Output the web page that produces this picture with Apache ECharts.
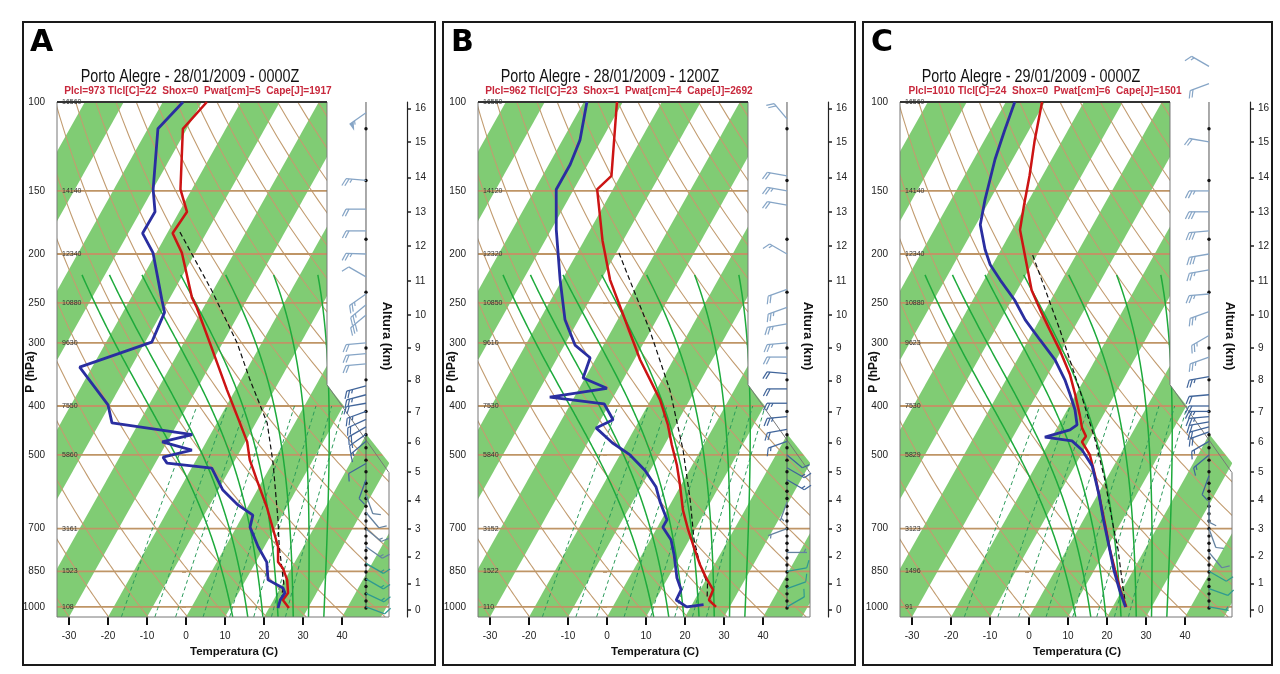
<!DOCTYPE html>
<html>
<head>
<meta charset="utf-8">
<title>Porto Alegre soundings</title>
<script src="https://cdn.jsdelivr.net/npm/echarts@6/dist/echarts.min.js"></script>
<style>
  html, body { margin: 0; padding: 0; background: #fff; }
  #chart { width: 1280px; height: 674px; }
</style>
</head>
<body>
<div id="chart"></div>
<script>
// skew-T log-p diagrams, Porto Alegre 28-29/01/2009

// ---- axes ----
const pressureTicks = [100, 150, 200, 250, 300, 400, 500, 700, 850, 1000];
const isobarLevels = [150, 200, 250, 300, 400, 500, 700, 850, 1000];
const tempTicks = [-30, -20, -10, 0, 10, 20, 30, 40];
const altitudeKm = [0, 1, 2, 3, 4, 5, 6, 7, 8, 9, 10, 11, 12, 13, 14, 15, 16];
const altitudePressure = [1013, 899, 795, 701, 616, 540, 472, 411, 356, 307, 264, 226, 193, 165, 141, 120, 103];

// ---- background lines of the diagram ----
const bandStarts = [-140, -120, -100, -80, -60, -40, -20, 0, 20, 40];   // green 10 C isotherm bands
const thetaLines = [230, 240, 250, 260, 270, 280, 290, 300, 310, 320, 330, 340, 350, 360, 370,
                    380, 390, 400, 410, 420, 430, 440, 450, 460, 470, 480, 490, 500]; // dry adiabats (K)
const thetaWLines = [10, 14, 18, 22, 26, 30, 34];         // moist adiabats (C)
const mixingLines = [1, 2, 3, 5, 8, 12, 16, 20];          // mixing ratio (g/kg)

// ---- panel texts ----
const panelLetters = ['A', 'B', 'C'];
const panelTitles = ['Porto Alegre - 28/01/2009 - 0000Z', 'Porto Alegre - 28/01/2009 - 1200Z', 'Porto Alegre - 29/01/2009 - 0000Z'];
const panelIndices = ['Plcl=973 Tlcl[C]=22  Shox=0  Pwat[cm]=5  Cape[J]=1917',
                      'Plcl=962 Tlcl[C]=23  Shox=1  Pwat[cm]=4  Cape[J]=2692',
                      'Plcl=1010 Tlcl[C]=24  Shox=0  Pwat[cm]=6  Cape[J]=1501'];
const heightLabelsA = ['16560', '14140', '12340', '10880', '9630', '7550', '5860', '3161', '1523', '108'];
const heightLabelsB = ['16550', '14120', '12320', '10850', '9610', '7530', '5840', '3152', '1522', '110'];
const heightLabelsC = ['16560', '14140', '12340', '10880', '9623', '7530', '5829', '3123', '1496', '91'];

// ---- soundings: pressure (hPa) / temperature (C) ----
const tempPA = [100, 113, 149, 165, 182, 199, 244, 255, 300, 372, 432, 471, 512, 531, 561, 634, 760, 815, 838, 884, 938, 969, 1005];
const tempTA = [-68.7, -71.0, -62.9, -58.0, -58.6, -53.4, -44.4, -41.8, -33.3, -22.1, -14.1, -9.5, -6.2, -4.3, -1.5, 4.9, 13.5, 15.7, 17.8, 20.6, 22.7, 22.4, 25.1];
const dewPA = [100, 113, 149, 165, 182, 199, 247, 261, 299, 335, 398, 432, 456, 471, 489, 505, 519, 531, 587, 628, 658, 695, 760, 815, 884, 917, 938, 969, 1005];
const dewTA = [-74.8, -77.4, -69.9, -66.2, -66.3, -60.8, -51.7, -49.3, -48.3, -63.2, -50.5, -46.9, -24.6, -31.3, -22.5, -28.9, -27.0, -14.8, -8.8, -2.8, 2.5, 3.5, 8.4, 12.8, 15.7, 20.7, 21.9, 21.7, 22.3];
const parcelPA = [181, 236, 300, 355, 432, 519, 672, 760, 830, 900, 973];
const parcelTA = [-56.9, -40.4, -26.3, -17.7, -7.1, 0.2, 9.6, 13.8, 17.2, 20.3, 22.0];

const tempPB = [100, 140, 149, 188, 225, 270, 324, 389, 436, 478, 524, 573, 643, 704, 764, 826, 876, 925, 969, 1000];
const tempTB = [-71.5, -62.3, -64.0, -55.3, -47.7, -38.1, -28.5, -17.6, -12.0, -8.1, -3.9, -0.3, 4.1, 8.3, 12.4, 16.4, 19.8, 23.3, 23.7, 26.5];
const dewPB = [100, 119, 133, 149, 179, 225, 270, 303, 321, 352, 369, 384, 396, 426, 442, 473, 500, 536, 579, 620, 672, 695, 736, 789, 876, 925, 969, 1000, 990];
const dewTB = [-79.2, -75.5, -74.5, -74.5, -68.7, -60.5, -53.5, -47.3, -41.6, -40.5, -32.9, -46.3, -31.4, -26.8, -30.0, -23.7, -17.4, -11.4, -6.1, -2.9, 1.4, 1.4, 5.3, 8.3, 12.3, 15.1, 15.3, 19.0, 23.0];
const parcelPB = [199, 283, 372, 489, 614, 736, 826, 900, 962];
const parcelTB = [-49.3, -30.3, -16.5, -4.5, 4.5, 11.2, 16.4, 21.0, 23.0];

const tempPC = [100, 119, 140, 160, 179, 201, 236, 258, 283, 310, 347, 380, 417, 442, 459, 471, 500, 548, 614, 688, 771, 845, 925, 1000];
const tempTC = [-70.7, -67.1, -63.3, -60.5, -58.0, -53.1, -46.3, -41.3, -35.9, -30.5, -24.3, -20.1, -16.0, -13.6, -11.4, -11.6, -7.7, -3.5, 1.4, 6.3, 11.1, 15.3, 19.5, 23.5];
const dewPC = [100, 114, 130, 156, 175, 196, 210, 225, 247, 270, 296, 324, 355, 380, 407, 436, 446, 461, 469, 489, 526, 600, 672, 754, 845, 925, 1000];
const dewTC = [-77.7, -76.2, -74.5, -71.3, -68.9, -64.1, -60.6, -55.9, -49.2, -43.7, -37.0, -30.3, -24.9, -21.4, -18.0, -15.3, -16.4, -21.8, -14.3, -10.4, -5.5, 0.4, 5.1, 10.1, 15.0, 19.3, 23.3];
const parcelPC = [201, 283, 372, 467, 561, 672, 771, 884, 1000];
const parcelTC = [-51.1, -33.3, -19.6, -8.5, -0.2, 7.3, 13.2, 18.5, 23.4];

// ---- winds: pressure (hPa), direction (deg), speed (kt) ----
const windPA = [105, 143, 163, 180, 200, 222, 240, 252, 264, 300, 315, 330, 365, 380, 395, 410, 425, 440, 455, 470, 520, 560, 600, 650, 700, 760, 820, 880, 940, 1000];
const windDirA = [235, 275, 270, 270, 272, 300, 235, 230, 230, 265, 265, 265, 255, 255, 260, 250, 245, 240, 235, 230, 240, 200, 160, 140, 130, 125, 120, 120, 115, 110];
const windSpdA = [55, 25, 20, 20, 25, 10, 25, 25, 30, 20, 20, 20, 25, 25, 20, 25, 20, 20, 15, 15, 10, 10, 10, 10, 15, 15, 15, 15, 15, 10];
const windPB = [108, 140, 150, 160, 200, 235, 255, 275, 300, 320, 345, 370, 395, 420, 445, 470, 500, 530, 560, 620, 700, 780, 850, 920, 1000];
const windDirB = [320, 280, 280, 280, 300, 250, 250, 260, 265, 270, 275, 270, 270, 265, 260, 250, 130, 120, 120, 200, 250, 90, 80, 70, 60];
const windSpdB = [20, 20, 25, 20, 15, 20, 25, 25, 25, 20, 20, 20, 25, 25, 20, 15, 10, 15, 15, 5, 5, 5, 10, 10, 10];
const windPC = [85, 92, 120, 150, 165, 180, 200, 215, 240, 260, 290, 320, 350, 380, 400, 410, 420, 430, 440, 450, 470, 500, 550, 620, 700, 780, 850, 920, 1000];
const windDirC = [300, 250, 280, 270, 270, 265, 260, 260, 265, 250, 240, 250, 260, 265, 270, 270, 265, 260, 255, 250, 240, 230, 200, 180, 160, 140, 120, 110, 100];
const windSpdC = [15, 20, 20, 25, 30, 30, 30, 25, 25, 25, 25, 25, 25, 20, 20, 25, 25, 20, 20, 20, 15, 15, 10, 10, 10, 10, 10, 10, 5];
const windDots = [113, 143, 187, 238, 307, 355, 410, 456, 484, 512, 540, 569, 590, 610, 632, 654, 676, 700, 724, 748, 773, 800, 826, 853, 882, 911, 942, 973, 1005];

// ---- geometry of the diagram ----
const PANEL_X = [0, 421, 843];
const PB = 1047;            // pressure at the bottom edge
const SKEW = 72.6;          // isotherm skew, C per decade of pressure
const X_MIN = -33.08, X_MAX = 52.05, X_CUT = 36.15, X_COL = 46.15;
const LOG_TOP = 2, LOG_BOT = Math.log10(PB);
const FONT_N = '"Liberation Sans Narrow", "Arial Narrow", "Liberation Sans", sans-serif';
const FONT = '"Liberation Sans", Arial, sans-serif';
const BAND_GREEN = '#80cc74';
const BROWN = '#c29c70';

const toXY = (p, t) => [t + SKEW * Math.log10(PB / p), Math.log10(p)];
const sounding = (ps, ts) => ps.map((p, k) => toXY(p, ts[k]));

// dry adiabats
const dryCurves = thetaLines.map(th => {
    const pts = [];
    for (let p = PB; p > 100; p -= 10) pts.push(toXY(p, th * Math.pow(p / 1000, 0.286) - 273.15));
    pts.push(toXY(100, th * Math.pow(0.1, 0.286) - 273.15));
    return pts;
});

// saturated adiabats
function moistLapse(p, T) {
    const es = 6.112 * Math.exp(17.67 * (T - 273.15) / (T - 29.65));
    const rs = 0.622 * es / (p - es);
    return (287 * T + 2.5e6 * rs) / (p * (1004 + 2.5e6 * 2.5e6 * rs * 0.622 / (287 * T * T)));
}
function moistStep(p, T, dp) {
    const k1 = moistLapse(p, T);
    const k2 = moistLapse(p + dp / 2, T + k1 * dp / 2);
    return T + k2 * dp;
}
const moistCurves = thetaWLines.map(tw => {
    let Tb = tw + 273.15;
    for (let q = 1000; q < PB; q += 1) Tb = moistStep(q, Tb, 1);
    const pts = [toXY(PB, Tb - 273.15)];
    let T = tw + 273.15, p = 1000;
    while (p > 222) { pts.push(toXY(p, T - 273.15)); T = moistStep(p, T, -4); p -= 4; }
    pts.push(toXY(p, T - 273.15));
    return pts;
});

// mixing ratio lines
function dewFromMixing(w, p) {
    const l = Math.log(w * p / (622 + w) / 6.112);
    return 243.5 * l / (17.67 - l);
}
const mixCurves = mixingLines.map(w => {
    const pts = [];
    for (let p = PB; p > 400; p -= 20) pts.push(toXY(p, dewFromMixing(w, p)));
    pts.push(toXY(400, dewFromMixing(w, 400)));
    return pts;
});

const panelData = [
    { heights: heightLabelsA, temp: sounding(tempPA, tempTA), dew: sounding(dewPA, dewTA), parcel: sounding(parcelPA, parcelTA),
      wind: windPA.map((p, k) => [Math.log10(p), windDirA[k], windSpdA[k]]) },
    { heights: heightLabelsB, temp: sounding(tempPB, tempTB), dew: sounding(dewPB, dewTB), parcel: sounding(parcelPB, parcelTB),
      wind: windPB.map((p, k) => [Math.log10(p), windDirB[k], windSpdB[k]]) },
    { heights: heightLabelsC, temp: sounding(tempPC, tempTC), dew: sounding(dewPC, dewTC), parcel: sounding(parcelPC, parcelTC),
      wind: windPC.map((p, k) => [Math.log10(p), windDirC[k], windSpdC[k]]) }
];

function curveSeries(ax, curves, z, style) {
    return Object.assign({}, ax, {
        type: 'custom', z: z, clip: true, silent: true,
        data: curves.map((c, k) => k),
        renderItem: (params, api) => ({
            type: 'polyline',
            shape: { points: curves[params.dataIndex].map(d => api.coord(d)) },
            style: Object.assign({ fill: null }, style)
        })
    });
}

function barbColor(p) {
    return p < 340 ? '#86a5c6' : p < 560 ? '#41659a' : p < 780 ? '#6482a0' : '#2f9a90';
}

function renderBarb(params, api) {
    const o = api.coord([X_COL, api.value(0)]);
    const a = api.value(1) * Math.PI / 180;
    let spd = api.value(2);
    const s = [Math.sin(a), -Math.cos(a)];
    const n = [s[1], -s[0]];
    const col = barbColor(Math.pow(10, api.value(0)));
    const tip = [o[0] + s[0] * 20, o[1] + s[1] * 20];
    const at = d => [tip[0] - s[0] * d, tip[1] - s[1] * d];
    const kids = [{ type: 'line', shape: { x1: o[0], y1: o[1], x2: tip[0], y2: tip[1] }, style: { stroke: col, lineWidth: 1.3 } }];
    let d = 0;
    while (spd >= 50) {
        const b = at(d), e = at(d + 5);
        kids.push({ type: 'polygon', shape: { points: [b, e, [b[0] + n[0] * 8, b[1] + n[1] * 8]] }, style: { fill: col } });
        spd -= 50; d += 6;
    }
    while (spd >= 10) {
        const b = at(d);
        kids.push({ type: 'line', shape: { x1: b[0], y1: b[1], x2: b[0] + (n[0] * 0.9 + s[0] * 0.45) * 8, y2: b[1] + (n[1] * 0.9 + s[1] * 0.45) * 8 }, style: { stroke: col, lineWidth: 1.2 } });
        spd -= 10; d += 3;
    }
    if (spd >= 5) {
        const b = at(d === 0 ? 3 : d);
        kids.push({ type: 'line', shape: { x1: b[0], y1: b[1], x2: b[0] + (n[0] * 0.9 + s[0] * 0.45) * 4, y2: b[1] + (n[1] * 0.9 + s[1] * 0.45) * 4 }, style: { stroke: col, lineWidth: 1.2 } });
    }
    return { type: 'group', children: kids };
}

function panelSeries(i) {
    const ax = { xAxisIndex: i, yAxisIndex: 2 * i };
    const pd = panelData[i];
    const list = [];
    // green isotherm bands
    list.push(Object.assign({}, ax, {
        type: 'custom', z: 1, clip: true, silent: true, data: bandStarts,
        renderItem: (params, api) => {
            const t = bandStarts[params.dataIndex];
            return { type: 'polygon',
                     shape: { points: [toXY(PB, t), toXY(PB, t + 10), toXY(100, t + 10), toXY(100, t)].map(d => api.coord(d)) },
                     style: { fill: BAND_GREEN } };
        }
    }));
    list.push(curveSeries(ax, dryCurves, 2, { stroke: BROWN, lineWidth: 1.1 }));
    list.push(curveSeries(ax, isobarLevels.map(p => [[X_MIN, Math.log10(p)], [X_MAX, Math.log10(p)]]), 2, { stroke: '#bf9566', lineWidth: 1.8 }));
    list.push(curveSeries(ax, moistCurves, 3, { stroke: '#1eaa3c', lineWidth: 1.5 }));
    list.push(curveSeries(ax, mixCurves, 3, { stroke: '#2a9a5a', lineWidth: 1, lineDash: [4, 3] }));
    // white area at the upper right, outside the diagram
    const cover = [[X_CUT, 1.97], [X_MAX + 2, 1.97], [X_MAX + 2, Math.log10(542)], [X_CUT, Math.log10(363)]];
    list.push(Object.assign({}, ax, {
        type: 'custom', z: 4, clip: true, silent: true, data: [0],
        renderItem: (params, api) => ({ type: 'polygon', shape: { points: cover.map(d => api.coord(d)) }, style: { fill: '#ffffff' } })
    }));
    // outline of the diagram
    const outline = [[X_MIN, LOG_TOP], [X_CUT, LOG_TOP], [X_CUT, Math.log10(363)], [X_MAX, Math.log10(542)],
                     [X_MAX, LOG_BOT], [X_MIN, LOG_BOT], [X_MIN, LOG_TOP]];
    const lo = curveSeries(ax, [outline], 5, { stroke: '#777', lineWidth: 1 });
    lo.clip = false;
    list.push(lo);
    const top = curveSeries(ax, [[[X_MIN, LOG_TOP], [X_CUT, LOG_TOP]]], 5, { stroke: '#333', lineWidth: 2 });
    top.clip = false;
    list.push(top);
    // wind column
    const col = curveSeries(ax, [[[X_COL, LOG_TOP], [X_COL, Math.log10(1005)]]], 5, { stroke: '#555', lineWidth: 1 });
    col.clip = false;
    list.push(col);
    list.push(Object.assign({}, ax, {
        type: 'custom', z: 6, silent: true, data: windDots.map(p => Math.log10(p)),
        renderItem: (params, api) => {
            const pt = api.coord([X_COL, Math.log10(windDots[params.dataIndex])]);
            return { type: 'circle', shape: { cx: pt[0], cy: pt[1], r: 1.7 }, style: { fill: '#111' } };
        }
    }));
    list.push(Object.assign({}, ax, { type: 'custom', z: 6, silent: true, data: pd.wind, renderItem: renderBarb }));
    // station heights of the standard levels
    list.push(Object.assign({}, ax, {
        type: 'custom', z: 6, silent: true, data: pressureTicks,
        renderItem: (params, api) => {
            const pt = api.coord([X_MIN, Math.log10(pressureTicks[params.dataIndex])]);
            return { type: 'text', x: pt[0] + 5, y: pt[1],
                     style: { text: pd.heights[params.dataIndex], font: '7px ' + FONT_N, fill: '#333',
                              align: 'left', verticalAlign: 'middle', textAlign: 'left', textVerticalAlign: 'middle' } };
        }
    }));
    // profiles
    list.push(Object.assign({}, ax, { type: 'line', z: 8, silent: true, showSymbol: false, data: pd.parcel,
        lineStyle: { color: '#111', width: 1.2, type: [5, 3] } }));
    list.push(Object.assign({}, ax, { type: 'line', z: 9, silent: true, showSymbol: false, data: pd.temp,
        lineStyle: { color: '#cc1414', width: 2.5 } }));
    list.push(Object.assign({}, ax, { type: 'line', z: 10, silent: true, showSymbol: false, data: pd.dew,
        lineStyle: { color: '#2a2ea0', width: 2.8 } }));
    return list;
}

const logTicks = pressureTicks.map(p => Math.log10(p));
const altTicks = altitudePressure.map(p => Math.log10(p));

const centered = { align: 'center', verticalAlign: 'middle', textAlign: 'center', textVerticalAlign: 'middle' };

const option = {
    animation: false,
    grid: PANEL_X.map(s => ({ left: 57 + s, top: 102, width: 332, height: 515 })),
    xAxis: PANEL_X.map((s, i) => ({
        gridIndex: i, type: 'value', min: X_MIN, max: X_MAX,
        axisLine: { show: false }, splitLine: { show: false },
        axisTick: { show: true, customValues: tempTicks, length: 8, lineStyle: { color: '#111', width: 2 } },
        axisLabel: { customValues: tempTicks, fontSize: 10, fontFamily: FONT_N, color: '#222', margin: 14 }
    })),
    yAxis: [].concat(...PANEL_X.map((s, i) => [
        {
            gridIndex: i, type: 'value', min: LOG_TOP, max: LOG_BOT, inverse: true,
            axisLine: { show: false }, splitLine: { show: false },
            axisTick: { show: true, customValues: logTicks, length: 4, lineStyle: { color: '#a88660', width: 1.5 } },
            axisLabel: { customValues: logTicks, fontSize: 10, fontFamily: FONT_N, color: '#222', margin: 12,
                         formatter: v => String(Math.round(Math.pow(10, v))) }
        },
        {
            gridIndex: i, type: 'value', position: 'right', offset: 18, min: LOG_TOP, max: LOG_BOT, inverse: true,
            axisLine: { show: true, lineStyle: { color: '#222', width: 1.2 } }, splitLine: { show: false },
            axisTick: { show: true, customValues: altTicks, length: 4, lineStyle: { color: '#222', width: 1.5 } },
            axisLabel: { customValues: altTicks, fontSize: 10, fontFamily: FONT_N, color: '#222', margin: 8,
                         formatter: v => {
                             const k = altTicks.findIndex(t => Math.abs(t - v) < 1e-6);
                             return k < 0 ? '' : String(altitudeKm[k]);
                         } }
        }
    ])),
    series: [].concat(...PANEL_X.map((s, i) => panelSeries(i))),
    graphic: [].concat(...PANEL_X.map((s, i) => {
        const bx = [23, 443, 863][i], bw = [412, 412, 409][i];
        return [
            { type: 'rect', shape: { x: bx, y: 22, width: bw, height: 643 }, style: { fill: 'transparent', stroke: '#1a1a1a', lineWidth: 2 }, z: 100 },
            { type: 'text', x: 30 + s + (i === 2 ? -2 : 0), y: 28, z: 100,
              style: { text: panelLetters[i], font: '900 30px "DejaVu Sans", sans-serif', fill: '#000' } },
            { type: 'text', x: [190, 610, 1031][i], y: 77, scaleX: 0.8, z: 100,
              style: Object.assign({ text: panelTitles[i], font: '18px ' + FONT, fill: '#111' }, centered) },
            { type: 'text', x: [198, 619, 1045][i], y: 91, scaleX: 0.92, z: 100,
              style: Object.assign({ text: panelIndices[i], font: 'bold 11px ' + FONT, fill: '#c8283c' }, centered) },
            { type: 'text', x: 31 + s, y: 372, rotation: Math.PI / 2, z: 100,
              style: Object.assign({ text: 'P (hPa)', font: 'bold 12px ' + FONT, fill: '#111' }, centered) },
            { type: 'text', x: 387 + s, y: 336, rotation: -Math.PI / 2, z: 100,
              style: Object.assign({ text: 'Altura (km)', font: 'bold 13px ' + FONT, fill: '#111' }, centered) },
            { type: 'text', x: 234 + s, y: 652, z: 100,
              style: Object.assign({ text: 'Temperatura (C)', font: 'bold 11.5px ' + FONT, fill: '#111' }, centered) }
        ];
    }))
};

const chart = echarts.init(document.getElementById('chart'));
chart.setOption(option);
</script>
</body>
</html>
